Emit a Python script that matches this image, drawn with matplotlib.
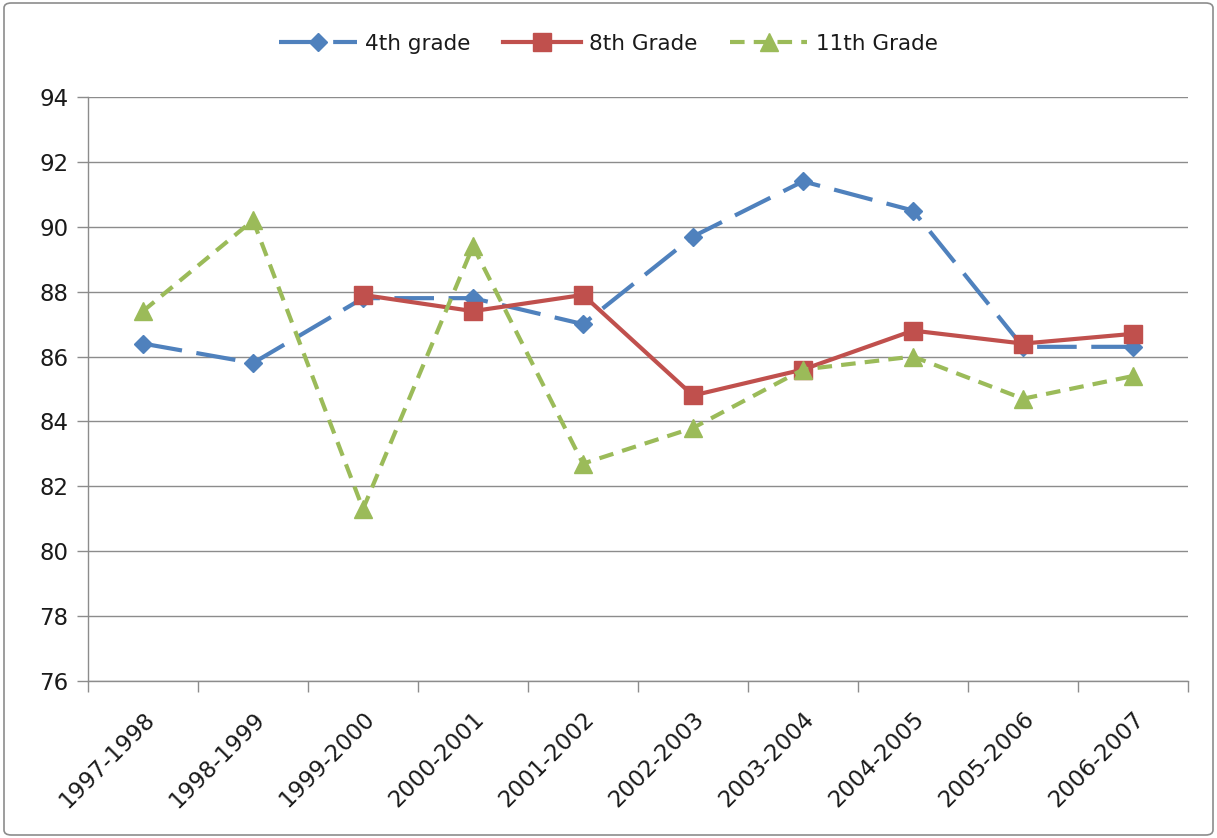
import matplotlib
matplotlib.use("Agg")
import matplotlib.pyplot as plt
from matplotlib.patches import FancyBboxPatch
from matplotlib.ticker import FixedLocator

years = ["1997-1998", "1998-1999", "1999-2000", "2000-2001", "2001-2002",
         "2002-2003", "2003-2004", "2004-2005", "2005-2006", "2006-2007"]
grade4 = [86.4, 85.8, 87.8, 87.8, 87.0, 89.7, 91.4, 90.5, 86.3, 86.3]
grade8 = [None, None, 87.9, 87.4, 87.9, 84.8, 85.6, 86.8, 86.4, 86.7]
grade11 = [87.4, 90.2, 81.3, 89.4, 82.7, 83.8, 85.6, 86.0, 84.7, 85.4]
yticks = [76, 78, 80, 82, 84, 86, 88, 90, 92, 94]

plt.rcParams['font.family'] = ['DejaVu Sans']
fig = plt.figure(figsize=(12.17, 8.38), dpi=100)
ax = fig.add_axes([88/1217, 1-681/838, (1188-88)/1217, (681-97)/838])

x = list(range(len(years)))
x8 = [i for i, v in enumerate(grade8) if v is not None]
v8 = [v for v in grade8 if v is not None]

blue = "#4F81BD"
red = "#C0504D"
green = "#9BBB59"

ax.plot(x, grade4, color=blue, lw=3.0, dashes=(9.5, 3.5), marker="D", ms=9,
        mfc=blue, mec=blue, label="4th grade", zorder=3)
ax.plot(x8, v8, color=red, lw=3.0, marker="s", ms=13, mfc=red, mec=red,
        label="8th Grade", zorder=4)
ax.plot(x, grade11, color=green, lw=3.0, dashes=(3.5, 2.2), marker="^", ms=13,
        mfc=green, mec=green, label="11th Grade", zorder=5)

ax.set_xlim(-0.5, len(years) - 0.5)
ax.set_ylim(76, 94)
ax.set_yticks(yticks)
ax.yaxis.grid(True, color="#8C8C8C", lw=1.0)
ax.set_axisbelow(True)

ax.set_xticks(x)
ax.set_xticklabels(years, rotation=45, ha="right", rotation_mode="anchor",
                   fontsize=16.5, color="#1A1A1A")
ax.xaxis.set_minor_locator(FixedLocator([i - 0.5 for i in range(len(years) + 1)]))
ax.tick_params(axis="x", which="major", length=0, pad=19)
ax.tick_params(axis="x", which="minor", length=8, color="#8C8C8C", width=1)
ax.tick_params(axis="y", length=8, color="#8C8C8C", width=1, labelsize=16.5,
               pad=6, labelcolor="#1A1A1A")

for s in ["top", "right"]:
    ax.spines[s].set_visible(False)
for s in ["left", "bottom"]:
    ax.spines[s].set_color("#8C8C8C")
    ax.spines[s].set_linewidth(1)

leg = fig.legend(loc="center", bbox_to_anchor=(0.5, 1 - 44/838), ncol=3,
                 frameon=False, fontsize=15.5, handlelength=3.6,
                 columnspacing=1.5, handletextpad=0.4)
for t in leg.get_texts():
    t.set_color("#1A1A1A")

border = FancyBboxPatch((4/1217, 3/838), 1 - 8/1217, 1 - 6/838,
                        boxstyle="round,pad=0,rounding_size=0.006",
                        transform=fig.transFigure, fill=False,
                        edgecolor="#8C8C8C", lw=1.2)
fig.patches.append(border)

fig.savefig("out.png", dpi=100)
